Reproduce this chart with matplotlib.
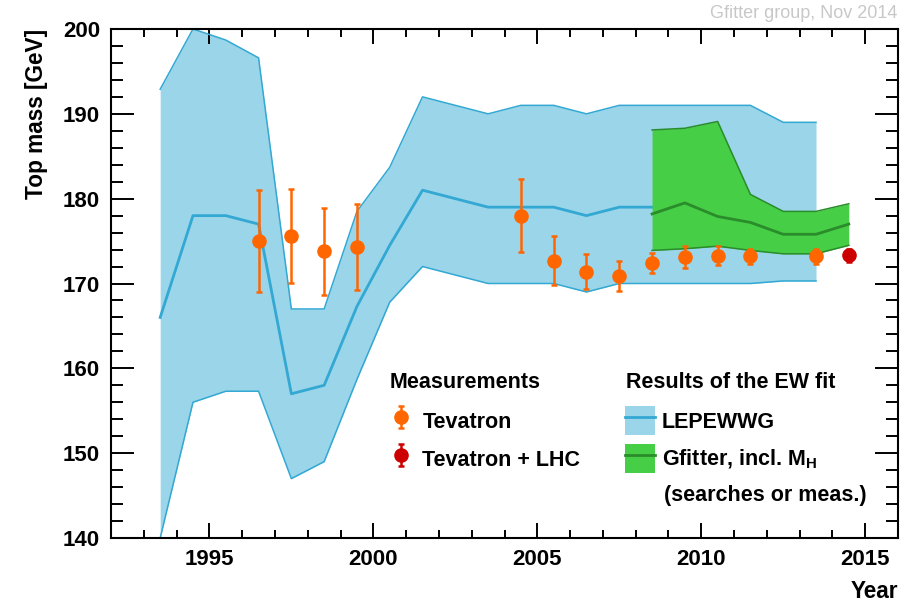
import matplotlib
matplotlib.use("Agg")
import matplotlib.pyplot as plt
from matplotlib.patches import Patch
from matplotlib.lines import Line2D
from matplotlib.ticker import MultipleLocator

plt.rcParams['font.family'] = ['Liberation Sans', 'DejaVu Sans']
plt.rcParams['font.weight'] = 'bold'
plt.rcParams['mathtext.fontset'] = 'custom'
plt.rcParams['mathtext.rm'] = 'Liberation Sans:bold'
plt.rcParams['mathtext.bf'] = 'Liberation Sans:bold'

# LEPEWWG indirect determination (band + central value)
lep_years = [1993.5, 1994.5, 1995.5, 1996.5, 1997.5, 1998.5, 1999.5, 2000.5, 2001.5,
             2002.5, 2003.5, 2004.5, 2005.5, 2006.5, 2007.5, 2008.5, 2009.5, 2010.5,
             2011.5, 2012.5, 2013.5]
lep_up = [192.9, 200.0, 198.7, 196.6, 167.0, 167.0, 178.5, 183.7, 192.0,
          191.0, 190.0, 191.0, 191.0, 190.0, 191.0, 191.0, 191.0, 191.0,
          191.0, 189.0, 189.0]
lep_lo = [140.0, 156.0, 157.3, 157.3, 147.0, 149.0, 158.7, 167.8, 172.0,
          171.0, 170.0, 170.0, 170.0, 169.0, 170.0, 170.0, 170.0, 170.0,
          170.0, 170.3, 170.3]
lep_c_years = lep_years[:16]
lep_c = [166.0, 178.0, 178.0, 177.0, 157.0, 158.0, 167.3, 174.5, 181.0,
         180.0, 179.0, 179.0, 179.0, 178.0, 179.0, 179.0]

# Gfitter fit incl. M_H
gf_years = [2008.5, 2009.5, 2010.5, 2011.5, 2012.5, 2013.5, 2014.5]
gf_up = [188.1, 188.3, 189.1, 180.5, 178.5, 178.5, 179.4]
gf_c = [178.2, 179.5, 177.9, 177.2, 175.8, 175.8, 177.0]
gf_lo = [173.9, 174.1, 174.4, 173.9, 173.5, 173.5, 174.5]

# direct measurements
tev_years = [1996.5, 1997.5, 1998.5, 1999.5, 2004.5, 2005.5, 2006.5, 2007.5,
             2008.5, 2009.5, 2010.5, 2011.5, 2013.5]
tev_mass = [175.0, 175.6, 173.8, 174.3, 178.0, 172.7, 171.4, 170.9,
            172.4, 173.1, 173.3, 173.2, 173.2]
tev_err = [6.0, 5.5, 5.1, 5.1, 4.3, 2.9, 2.1, 1.8, 1.2, 1.3, 1.1, 0.9, 0.9]
lhc_years = [2014.5]
lhc_mass = [173.34]
lhc_err = [0.76]

blue_fill = '#9AD5EA'
blue_line = '#33A8D3'
green_fill = '#46CE46'
green_line = '#2A8C2A'
orange = '#FF6600'
red = '#CC0000'

fig = plt.figure(figsize=(9.1, 6.02), dpi=100)
ax = fig.add_axes([111 / 910, 1 - 538 / 602, 787 / 910, 509 / 602])

ax.fill_between(lep_years, lep_lo, lep_up, color=blue_fill, lw=0, zorder=1)
ax.plot(lep_years, lep_up, color=blue_line, lw=1.1, zorder=2)
ax.plot(lep_years, lep_lo, color=blue_line, lw=1.1, zorder=2)
ax.plot(lep_c_years, lep_c, color=blue_line, lw=2.0, zorder=2)

ax.fill_between(gf_years, gf_lo, gf_up, color=green_fill, lw=0, zorder=3)
ax.plot(gf_years, gf_up, color=green_line, lw=1.1, zorder=4)
ax.plot(gf_years, gf_lo, color=green_line, lw=1.1, zorder=4)
ax.plot(gf_years, gf_c, color=green_line, lw=2.0, zorder=4)

tev = ax.errorbar(tev_years, tev_mass, yerr=tev_err, fmt='o', color=orange,
                  ms=9.5, elinewidth=1.8, capsize=2.5, capthick=1.8, zorder=5)
lhc = ax.errorbar(lhc_years, lhc_mass, yerr=lhc_err, fmt='o', color=red,
                  ms=9.5, elinewidth=1.8, capsize=2.5, capthick=1.8, zorder=5)

ax.set_xlim(1992, 2016)
ax.set_ylim(140, 200)
ax.xaxis.set_major_locator(MultipleLocator(5))
ax.xaxis.set_minor_locator(MultipleLocator(1))
ax.yaxis.set_major_locator(MultipleLocator(10))
ax.yaxis.set_minor_locator(MultipleLocator(2))
ax.tick_params(which='both', direction='in', top=True, right=True, width=1.4)
ax.tick_params(axis='x', which='major', length=11, labelsize=16, pad=8)
ax.tick_params(axis='x', which='minor', length=5.5)
ax.tick_params(axis='y', which='major', length=16.5, labelsize=16, pad=8)
ax.tick_params(axis='y', which='minor', length=8.3)
for s in ax.spines.values():
    s.set_linewidth(1.5)

ax.set_ylabel('Top mass [GeV]', fontsize=16.3, fontweight='bold', loc='top')
ax.yaxis.set_label_coords(-0.08, 1.0)
ax.set_xlabel('Year', fontsize=16.3, fontweight='bold', loc='right')
ax.xaxis.set_label_coords(1.0, -0.082)

fig.text(897 / 910, 1 - 14 / 602, 'Gfitter group, Nov 2014', color='#C8C8C8',
         fontsize=13, fontweight='normal', ha='right', va='center')

# legend headers
fig.text(390 / 910, 1 - 383 / 602, 'Measurements', fontsize=15.5,
         fontweight='bold', ha='left', va='center')
fig.text(626 / 910, 1 - 383 / 602, 'Results of the EW fit', fontsize=15.5,
         fontweight='bold', ha='left', va='center')

leg_kw = dict(loc='upper left', frameon=False, fontsize=15.5,
              handleheight=1.7, labelspacing=0.42, borderpad=0, borderaxespad=0)

leg1 = fig.legend([tev, lhc], ['Tevatron', 'Tevatron + LHC'],
                  bbox_to_anchor=(389 / 910, 1 - 406 / 602),
                  handlelength=1.1, handletextpad=0.45, **leg_kw)

lep_h = (Patch(fc=blue_fill, ec='none'), Line2D([], [], color=blue_line, lw=2.0))
gf_h = (Patch(fc=green_fill, ec='none'), Line2D([], [], color=green_line, lw=2.0))
leg2 = fig.legend([lep_h, gf_h], ['LEPEWWG', r'Gfitter, incl. M$_{\mathbf{H}}$'],
                  bbox_to_anchor=(625 / 910, 1 - 406 / 602),
                  handlelength=1.4, handletextpad=0.3, **leg_kw)
fig.text(664 / 910, 1 - 496 / 602, '(searches or meas.)', fontsize=15.5,
         fontweight='bold', ha='left', va='center')

fig.savefig('out.png', dpi=100)
